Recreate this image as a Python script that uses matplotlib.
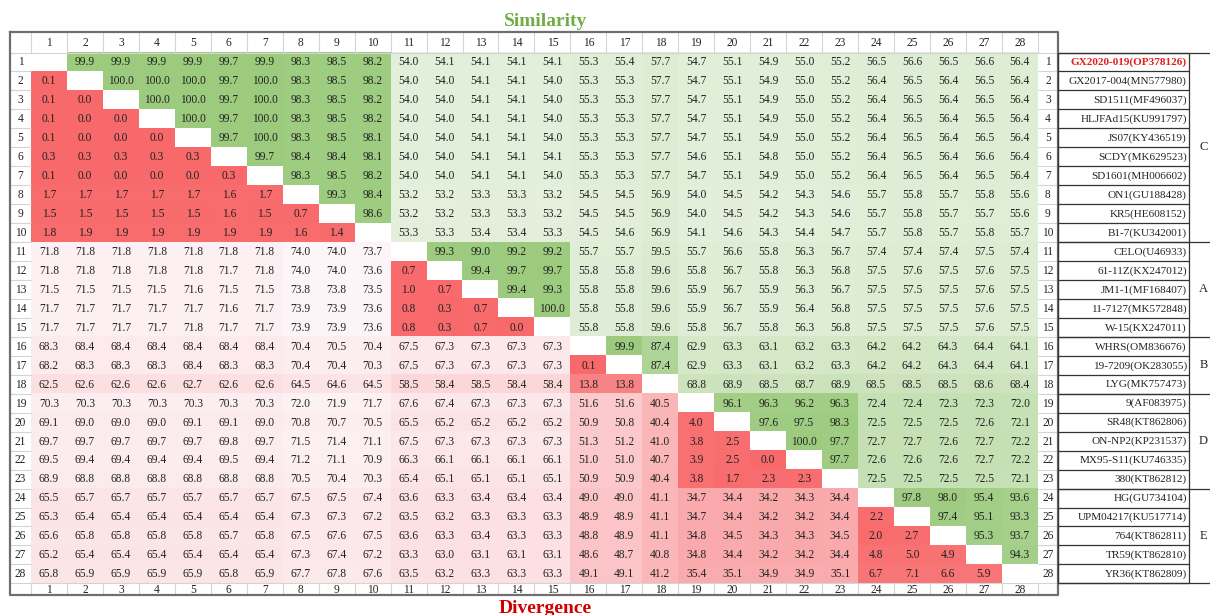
import numpy as np
import matplotlib.pyplot as plt

# strain names (row / column order) and groups
names = ["GX2020-019(OP378126)", "GX2017-004(MN577980)", "SD1511(MF496037)",
         "HLJFAd15(KU991797)", "JS07(KY436519)", "SCDY(MK629523)", "SD1601(MH006602)",
         "ON1(GU188428)", "KR5(HE608152)", "B1-7(KU342001)", "CELO(U46933)",
         "61-11Z(KX247012)", "JM1-1(MF168407)", "11-7127(MK572848)", "W-15(KX247011)",
         "WHRS(OM836676)", "19-7209(OK283055)", "LYG(MK757473)", "9(AF083975)",
         "SR48(KT862806)", "ON-NP2(KP231537)", "MX95-S11(KU746335)", "380(KT862812)",
         "HG(GU734104)", "UPM04217(KU517714)", "764(KT862811)", "TR59(KT862810)",
         "YR36(KT862809)"]
groups = ["C", "A", "B", "D", "E"]
group_sizes = [10, 5, 3, 5, 5]

# upper triangle = similarity (%), lower triangle = divergence (%)
N = None
row_01 = [N, 99.9, 99.9, 99.9, 99.9, 99.7, 99.9, 98.3, 98.5, 98.2, 54.0, 54.1, 54.1, 54.1, 54.1, 55.3, 55.4, 57.7, 54.7, 55.1, 54.9, 55.0, 55.2, 56.5, 56.6, 56.5, 56.6, 56.4]
row_02 = [0.1, N, 100.0, 100.0, 100.0, 99.7, 100.0, 98.3, 98.5, 98.2, 54.0, 54.0, 54.1, 54.1, 54.0, 55.3, 55.3, 57.7, 54.7, 55.1, 54.9, 55.0, 55.2, 56.4, 56.5, 56.4, 56.5, 56.4]
row_03 = [0.1, 0.0, N, 100.0, 100.0, 99.7, 100.0, 98.3, 98.5, 98.2, 54.0, 54.0, 54.1, 54.1, 54.0, 55.3, 55.3, 57.7, 54.7, 55.1, 54.9, 55.0, 55.2, 56.4, 56.5, 56.4, 56.5, 56.4]
row_04 = [0.1, 0.0, 0.0, N, 100.0, 99.7, 100.0, 98.3, 98.5, 98.2, 54.0, 54.0, 54.1, 54.1, 54.0, 55.3, 55.3, 57.7, 54.7, 55.1, 54.9, 55.0, 55.2, 56.4, 56.5, 56.4, 56.5, 56.4]
row_05 = [0.1, 0.0, 0.0, 0.0, N, 99.7, 100.0, 98.3, 98.5, 98.1, 54.0, 54.0, 54.1, 54.1, 54.0, 55.3, 55.3, 57.7, 54.7, 55.1, 54.9, 55.0, 55.2, 56.4, 56.5, 56.4, 56.5, 56.4]
row_06 = [0.3, 0.3, 0.3, 0.3, 0.3, N, 99.7, 98.4, 98.4, 98.1, 54.0, 54.0, 54.1, 54.1, 54.1, 55.3, 55.3, 57.7, 54.6, 55.1, 54.8, 55.0, 55.2, 56.4, 56.5, 56.4, 56.6, 56.4]
row_07 = [0.1, 0.0, 0.0, 0.0, 0.0, 0.3, N, 98.3, 98.5, 98.2, 54.0, 54.0, 54.1, 54.1, 54.0, 55.3, 55.3, 57.7, 54.7, 55.1, 54.9, 55.0, 55.2, 56.4, 56.5, 56.4, 56.5, 56.4]
row_08 = [1.7, 1.7, 1.7, 1.7, 1.7, 1.6, 1.7, N, 99.3, 98.4, 53.2, 53.2, 53.3, 53.3, 53.2, 54.5, 54.5, 56.9, 54.0, 54.5, 54.2, 54.3, 54.6, 55.7, 55.8, 55.7, 55.8, 55.6]
row_09 = [1.5, 1.5, 1.5, 1.5, 1.5, 1.6, 1.5, 0.7, N, 98.6, 53.2, 53.2, 53.3, 53.3, 53.2, 54.5, 54.5, 56.9, 54.0, 54.5, 54.2, 54.3, 54.6, 55.7, 55.8, 55.7, 55.7, 55.6]
row_10 = [1.8, 1.9, 1.9, 1.9, 1.9, 1.9, 1.9, 1.6, 1.4, N, 53.3, 53.3, 53.4, 53.4, 53.3, 54.5, 54.6, 56.9, 54.1, 54.6, 54.3, 54.4, 54.7, 55.7, 55.8, 55.7, 55.8, 55.7]
row_11 = [71.8, 71.8, 71.8, 71.8, 71.8, 71.8, 71.8, 74.0, 74.0, 73.7, N, 99.3, 99.0, 99.2, 99.2, 55.7, 55.7, 59.5, 55.7, 56.6, 55.8, 56.3, 56.7, 57.4, 57.4, 57.4, 57.5, 57.4]
row_12 = [71.8, 71.8, 71.8, 71.8, 71.8, 71.7, 71.8, 74.0, 74.0, 73.6, 0.7, N, 99.4, 99.7, 99.7, 55.8, 55.8, 59.6, 55.8, 56.7, 55.8, 56.3, 56.8, 57.5, 57.6, 57.5, 57.6, 57.5]
row_13 = [71.5, 71.5, 71.5, 71.5, 71.6, 71.5, 71.5, 73.8, 73.8, 73.5, 1.0, 0.7, N, 99.4, 99.3, 55.8, 55.8, 59.6, 55.9, 56.7, 55.9, 56.3, 56.7, 57.5, 57.5, 57.5, 57.6, 57.5]
row_14 = [71.7, 71.7, 71.7, 71.7, 71.7, 71.6, 71.7, 73.9, 73.9, 73.6, 0.8, 0.3, 0.7, N, 100.0, 55.8, 55.8, 59.6, 55.9, 56.7, 55.9, 56.4, 56.8, 57.5, 57.5, 57.5, 57.6, 57.5]
row_15 = [71.7, 71.7, 71.7, 71.7, 71.8, 71.7, 71.7, 73.9, 73.9, 73.6, 0.8, 0.3, 0.7, 0.0, N, 55.8, 55.8, 59.6, 55.8, 56.7, 55.8, 56.3, 56.8, 57.5, 57.5, 57.5, 57.6, 57.5]
row_16 = [68.3, 68.4, 68.4, 68.4, 68.4, 68.4, 68.4, 70.4, 70.5, 70.4, 67.5, 67.3, 67.3, 67.3, 67.3, N, 99.9, 87.4, 62.9, 63.3, 63.1, 63.2, 63.3, 64.2, 64.2, 64.3, 64.4, 64.1]
row_17 = [68.2, 68.3, 68.3, 68.3, 68.4, 68.3, 68.3, 70.4, 70.4, 70.3, 67.5, 67.3, 67.3, 67.3, 67.3, 0.1, N, 87.4, 62.9, 63.3, 63.1, 63.2, 63.3, 64.2, 64.2, 64.3, 64.4, 64.1]
row_18 = [62.5, 62.6, 62.6, 62.6, 62.7, 62.6, 62.6, 64.5, 64.6, 64.5, 58.5, 58.4, 58.5, 58.4, 58.4, 13.8, 13.8, N, 68.8, 68.9, 68.5, 68.7, 68.9, 68.5, 68.5, 68.5, 68.6, 68.4]
row_19 = [70.3, 70.3, 70.3, 70.3, 70.3, 70.3, 70.3, 72.0, 71.9, 71.7, 67.6, 67.4, 67.3, 67.3, 67.3, 51.6, 51.6, 40.5, N, 96.1, 96.3, 96.2, 96.3, 72.4, 72.4, 72.3, 72.3, 72.0]
row_20 = [69.1, 69.0, 69.0, 69.0, 69.1, 69.1, 69.0, 70.8, 70.7, 70.5, 65.5, 65.2, 65.2, 65.2, 65.2, 50.9, 50.8, 40.4, 4.0, N, 97.6, 97.5, 98.3, 72.5, 72.5, 72.5, 72.6, 72.1]
row_21 = [69.7, 69.7, 69.7, 69.7, 69.7, 69.8, 69.7, 71.5, 71.4, 71.1, 67.5, 67.3, 67.3, 67.3, 67.3, 51.3, 51.2, 41.0, 3.8, 2.5, N, 100.0, 97.7, 72.7, 72.7, 72.6, 72.7, 72.2]
row_22 = [69.5, 69.4, 69.4, 69.4, 69.4, 69.5, 69.4, 71.2, 71.1, 70.9, 66.3, 66.1, 66.1, 66.1, 66.1, 51.0, 51.0, 40.7, 3.9, 2.5, 0.0, N, 97.7, 72.6, 72.6, 72.6, 72.7, 72.2]
row_23 = [68.9, 68.8, 68.8, 68.8, 68.8, 68.8, 68.8, 70.5, 70.4, 70.3, 65.4, 65.1, 65.1, 65.1, 65.1, 50.9, 50.9, 40.4, 3.8, 1.7, 2.3, 2.3, N, 72.5, 72.5, 72.5, 72.5, 72.1]
row_24 = [65.5, 65.7, 65.7, 65.7, 65.7, 65.7, 65.7, 67.5, 67.5, 67.4, 63.6, 63.3, 63.4, 63.4, 63.4, 49.0, 49.0, 41.1, 34.7, 34.4, 34.2, 34.3, 34.4, N, 97.8, 98.0, 95.4, 93.6]
row_25 = [65.3, 65.4, 65.4, 65.4, 65.4, 65.4, 65.4, 67.3, 67.3, 67.2, 63.5, 63.2, 63.3, 63.3, 63.3, 48.9, 48.9, 41.1, 34.7, 34.4, 34.2, 34.2, 34.4, 2.2, N, 97.4, 95.1, 93.3]
row_26 = [65.6, 65.8, 65.8, 65.8, 65.8, 65.7, 65.8, 67.5, 67.6, 67.5, 63.6, 63.3, 63.4, 63.3, 63.3, 48.8, 48.9, 41.1, 34.8, 34.5, 34.3, 34.3, 34.5, 2.0, 2.7, N, 95.3, 93.7]
row_27 = [65.2, 65.4, 65.4, 65.4, 65.4, 65.4, 65.4, 67.3, 67.4, 67.2, 63.3, 63.0, 63.1, 63.1, 63.1, 48.6, 48.7, 40.8, 34.8, 34.4, 34.2, 34.2, 34.4, 4.8, 5.0, 4.9, N, 94.3]
row_28 = [65.8, 65.9, 65.9, 65.9, 65.9, 65.8, 65.9, 67.7, 67.8, 67.6, 63.5, 63.2, 63.3, 63.3, 63.3, 49.1, 49.1, 41.2, 35.4, 35.1, 34.9, 34.9, 35.1, 6.7, 7.1, 6.6, 5.9, N]

rows = [row_01, row_02, row_03, row_04, row_05, row_06, row_07, row_08, row_09, row_10,
        row_11, row_12, row_13, row_14, row_15, row_16, row_17, row_18, row_19, row_20,
        row_21, row_22, row_23, row_24, row_25, row_26, row_27, row_28]
mat = np.array([[np.nan if v is None else v for v in r] for r in rows], dtype=float)
n = mat.shape[0]

plt.rcParams['font.family'] = ['Liberation Serif', 'DejaVu Serif']

# colour scales (like excel conditional formatting)
green_lo = np.array([228, 240, 220]) / 255
green_hi = np.array([156, 203, 126]) / 255
red_lo = np.array([248, 105, 107]) / 255
red_hi = np.array([253, 245, 247]) / 255

iu = np.triu_indices(n, 1)
il = np.tril_indices(n, -1)
up_min, up_max = np.nanmin(mat[iu]), np.nanmax(mat[iu])
lo_min, lo_max = np.nanmin(mat[il]), np.nanmax(mat[il])

rgb = np.ones((n, n, 3))
for i in range(n):
    for j in range(n):
        v = mat[i, j]
        if np.isnan(v):
            continue
        if j > i:
            t = (v - up_min) / (up_max - up_min)
            rgb[i, j] = green_lo + t * (green_hi - green_lo)
        else:
            t = (v - lo_min) / (lo_max - lo_min)
            rgb[i, j] = red_lo + t * (red_hi - red_lo)

# layout in cell units
x_left = -0.58      # left edge of the row number column
x_rnum = 28.56      # right edge of the right row number column
x_name = 32.2       # right edge of the name box
y_top = -1.08
y_bot = 28.61

fig = plt.figure(figsize=(12.1, 6.15), dpi=100)
ax = fig.add_axes([0, 0, 1, 1])
ax.set_xlim(-0.862, 32.786)
ax.set_ylim(29.67, -2.77)
ax.axis('off')

ax.imshow(rgb, extent=(0, n, n, 0), aspect='auto', interpolation='nearest', zorder=1)

fs = 8.3
for i in range(n):
    for j in range(n):
        if not np.isnan(mat[i, j]):
            ax.text(j + 0.5, i + 0.52, f"{mat[i, j]:.1f}", ha='center', va='center',
                    fontsize=fs, color='#222222', zorder=3)

# headers and row numbers
for k in range(n):
    ax.text(k + 0.5, y_top / 2 + 0.02, str(k + 1), ha='center', va='center', fontsize=fs, color='#222222')
    ax.text(k + 0.5, (n + y_bot) / 2 + 0.02, str(k + 1), ha='center', va='center', fontsize=fs, color='#222222')
    ax.text(x_left / 2, k + 0.52, str(k + 1), ha='center', va='center', fontsize=fs, color='#222222')
    ax.text((n + x_rnum) / 2, k + 0.52, str(k + 1), ha='center', va='center', fontsize=fs, color='#222222')

# light grid in header cells
grid_c = '#d4d4d4'
ax.vlines(np.arange(0, n + 1), y_top, 0, color=grid_c, lw=0.8, zorder=2)
ax.vlines(np.arange(0, n + 1), n, y_bot, color=grid_c, lw=0.8, zorder=2)
ax.hlines(np.arange(0, n + 1), x_left, 0, color=grid_c, lw=0.8, zorder=2)
ax.hlines(np.arange(0, n + 1), n, x_rnum, color=grid_c, lw=0.8, zorder=2)
ax.hlines([0, n], 0, n, color=grid_c, lw=0.8, zorder=2)

# table outline
ax.plot([x_left, x_rnum, x_rnum, x_left, x_left], [y_top, y_top, y_bot, y_bot, y_top],
        color='#6e6e6e', lw=1.6, zorder=4)

# name box
ax.hlines(np.arange(0, n + 1), x_rnum, x_name, color='#333333', lw=0.9, zorder=4)
ax.vlines([x_rnum, x_name], 0, n, color='#333333', lw=0.9, zorder=4)
for k, nm in enumerate(names):
    if k == 0:
        ax.text(x_name - 0.06, k + 0.52, nm, ha='right', va='center', fontsize=8.1,
                color='#e02020', fontweight='bold', zorder=5)
    else:
        ax.text(x_name - 0.06, k + 0.52, nm, ha='right', va='center', fontsize=8.1,
                color='#222222', zorder=5)

# group separators and letters
bounds = np.concatenate([[0], np.cumsum(group_sizes)])
ax.hlines(bounds, x_rnum, 32.786, color='#333333', lw=0.9, zorder=4)
for g, a, b in zip(groups, bounds[:-1], bounds[1:]):
    ax.text(32.6, (a + b) / 2, g, ha='center', va='center', fontsize=9, color='#222222')

# titles
ax.text(n / 2 + 0.3, -1.65, "Similarity", ha='center', va='center', fontsize=14,
        fontweight='bold', color='#70ad47')
ax.text(n / 2 + 0.3, 29.35, "Divergence", ha='center', va='center', fontsize=14,
        fontweight='bold', color='#d00000')

plt.savefig('out.png', dpi=100)
